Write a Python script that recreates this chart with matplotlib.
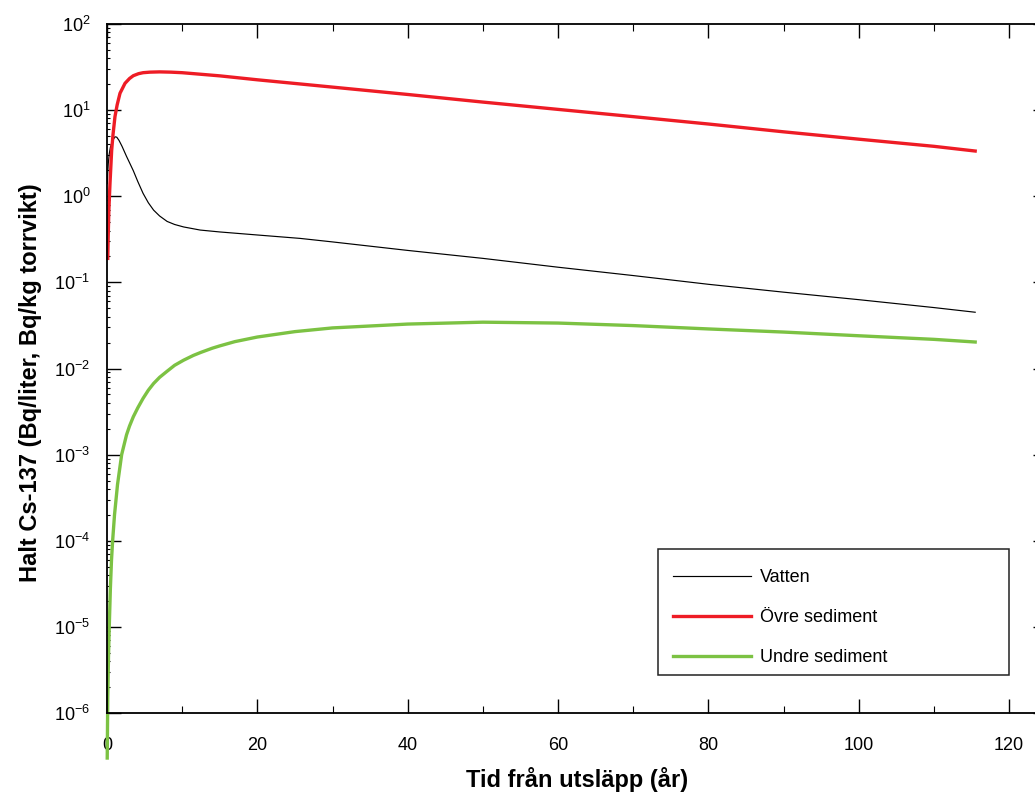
import numpy as np
import matplotlib
matplotlib.use("Agg")
import matplotlib.pyplot as plt
from matplotlib.patches import Rectangle
from matplotlib.ticker import LogLocator, MultipleLocator, NullFormatter, FuncFormatter

plt.rcParams["font.family"] = ["Liberation Sans", "DejaVu Sans"]
plt.rcParams["mathtext.fontset"] = "custom"
plt.rcParams["mathtext.rm"] = "Liberation Sans"
plt.rcParams["mathtext.it"] = "Liberation Sans:italic"
plt.rcParams["mathtext.bf"] = "Liberation Sans:bold"

# Vatten
water_t = [0.04, 0.1, 0.17, 0.3, 0.45, 0.62, 0.8, 1.06, 1.3, 1.6, 2.0, 2.6, 3.0, 3.5,
           4.1, 4.8, 5.5, 6.2, 7.0, 8.0, 9.0, 10.2, 12.4, 15, 20, 25.7, 30, 40, 50,
           60, 70, 80, 90, 100, 110, 115.5]
water_c = [1.4, 1.9, 2.4, 3.1, 3.7, 4.1, 4.5, 4.9, 4.85, 4.45, 3.8, 2.9, 2.45, 1.98,
           1.48, 1.08, 0.84, 0.69, 0.59, 0.51, 0.47, 0.44, 0.405, 0.385, 0.355,
           0.324, 0.295, 0.235, 0.19, 0.15, 0.12, 0.095, 0.077, 0.063, 0.051, 0.045]

# Övre sediment
upper_t = [0.1, 0.17, 0.25, 0.4, 0.62, 0.8, 1.06, 1.35, 1.73, 2.4, 3.0, 3.5, 4.2,
           4.8, 5.7, 7, 8.5, 10, 12, 15, 20, 30, 40, 50, 60, 70, 80, 90, 100, 110,
           115.5]
upper_c = [0.19, 0.37, 0.7, 1.42, 3.4, 5.2, 8.4, 11.5, 15.7, 20.5, 23.3, 25.1, 26.5,
           27.2, 27.6, 27.8, 27.6, 27.2, 26.3, 25.0, 22.5, 18.5, 15.2, 12.4, 10.2,
           8.4, 6.9, 5.6, 4.6, 3.8, 3.35]

# Undre sediment
lower_t = [0.03, 0.1, 0.2, 0.3, 0.45, 0.6, 0.75, 1.0, 1.4, 1.95, 2.6, 3.0, 3.5, 4.1,
           4.8, 5.5, 6.2, 7, 8, 9, 10.2, 11.5, 12.5, 14, 15, 17, 20, 25, 30, 40, 50,
           60, 70, 80, 90, 100, 110, 115.5]
lower_c = [3e-7, 1.5e-6, 4.5e-6, 1e-5, 2.8e-5, 6e-5, 1e-4, 2e-4, 4.5e-4, 1e-3,
           1.7e-3, 2.15e-3, 2.75e-3, 3.5e-3, 4.5e-3, 5.6e-3, 6.7e-3, 7.9e-3, 9.3e-3,
           0.0109, 0.0125, 0.0142, 0.0154, 0.0172, 0.0183, 0.0205, 0.0232, 0.0268,
           0.0296, 0.0328, 0.0345, 0.0337, 0.0315, 0.0288, 0.0265, 0.024, 0.0218,
           0.0203]

labels = ["Vatten", "Övre sediment", "Undre sediment"]

W, H = 1035, 796
px_per_year = 902 / 120
x_max = 125
ax_w = x_max * px_per_year

fig = plt.figure(figsize=(W / 100, H / 100), dpi=100)
ax = fig.add_axes([107 / W, 1 - 713 / H, ax_w / W, 689 / H])

ax.plot(water_t, water_c, color="black", lw=0.85, label=labels[0])
ax.plot(upper_t, upper_c, color="#ee1c25", lw=2.4, label=labels[1], clip_on=False)
ax.plot(lower_t, lower_c, color="#7cc243", lw=2.4, label=labels[2], clip_on=False)

ax.set_yscale("log")
ax.set_ylim(1e-6, 1e2)
ax.set_xlim(0, x_max)
ax.xaxis.set_major_locator(MultipleLocator(20))
ax.xaxis.set_minor_locator(MultipleLocator(10))
ax.yaxis.set_major_locator(LogLocator(base=10, numticks=20))
ax.yaxis.set_minor_locator(LogLocator(base=10, subs=np.arange(2, 10), numticks=20))
ax.yaxis.set_minor_formatter(NullFormatter())
ax.yaxis.set_major_formatter(FuncFormatter(lambda v, p: "10$^{%d}$" % round(np.log10(v))))

ax.tick_params(which="both", direction="in", top=True, right=True, labelsize=13)
ax.tick_params(which="major", length=10, width=1)
ax.tick_params(axis="x", which="minor", length=5, width=0.8)
ax.tick_params(axis="y", which="minor", length=2, width=0.8)
ax.tick_params(axis="x", pad=17)
ax.tick_params(axis="y", pad=12)
for s in ax.spines.values():
    s.set_linewidth(1.3)

ax.set_xlabel("Tid från utsläpp (år)", fontsize=17, fontweight="bold", labelpad=10)
ax.set_ylabel("Halt Cs-137 (Bq/liter, Bq/kg torrvikt)", fontsize=17, fontweight="bold")
ax.yaxis.set_label_coords((42 - 107) / ax_w, (713 - 383) / 689)

# legend box drawn separately so the rows can sit like in the original
fig.patches.append(Rectangle((658 / W, 1 - 675 / H), 351 / W, 126 / H,
                             transform=fig.transFigure, fill=True, facecolor="white",
                             edgecolor="#222222", lw=1.1, zorder=5))
leg = fig.legend(loc="upper left", bbox_to_anchor=(673 / W, 1 - 569 / H),
                 bbox_transform=fig.transFigure, borderaxespad=0, borderpad=0,
                 fontsize=13, handlelength=4.33, handletextpad=0.5, labelspacing=1.27,
                 frameon=False)
leg.set_zorder(6)

fig.savefig("out.png", dpi=100)
